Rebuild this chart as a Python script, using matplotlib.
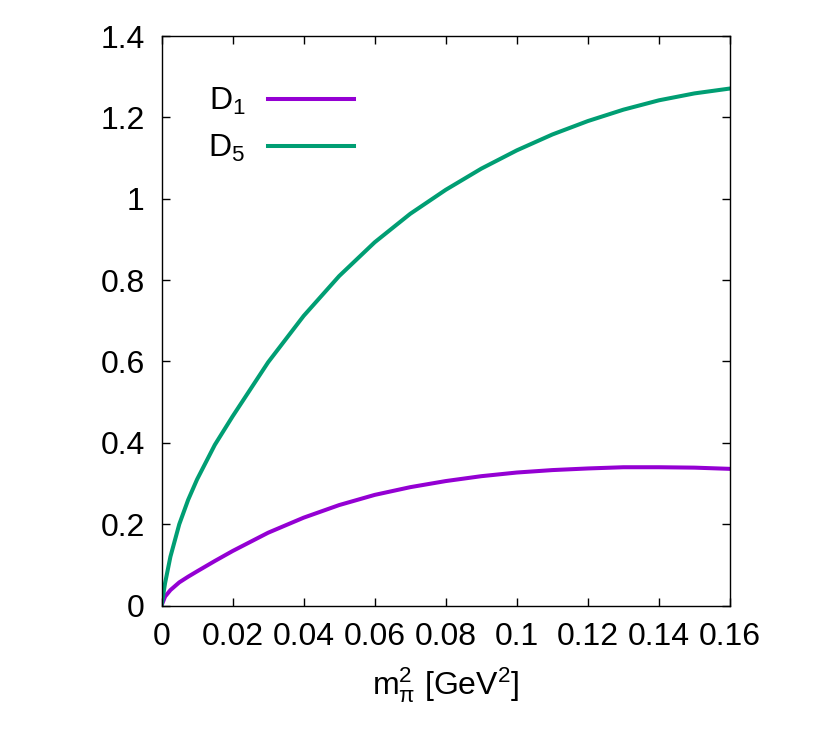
import matplotlib
matplotlib.use("Agg")
import matplotlib.pyplot as plt
from matplotlib.ticker import FixedLocator, FixedFormatter

plt.rcParams['font.family'] = ['Liberation Sans', 'DejaVu Sans']
plt.rcParams['mathtext.fontset'] = 'custom'
plt.rcParams['mathtext.rm'] = 'Liberation Sans'
plt.rcParams['mathtext.it'] = 'Liberation Sans'
plt.rcParams['mathtext.bf'] = 'Liberation Sans'

# m_pi^2 [GeV^2]
mpi2 = [0.0, 0.001, 0.0025, 0.005, 0.0075, 0.01, 0.015, 0.02, 0.03, 0.04, 0.05,
        0.06, 0.07, 0.08, 0.09, 0.10, 0.11, 0.12, 0.13, 0.14, 0.15, 0.16]
D1 = [0.0, 0.022, 0.038, 0.057, 0.071, 0.084, 0.1095, 0.134, 0.179, 0.216, 0.247,
      0.272, 0.291, 0.306, 0.318, 0.327, 0.333, 0.337, 0.340, 0.340, 0.339, 0.336]
D5 = [0.0, 0.055, 0.12, 0.20, 0.26, 0.31, 0.395, 0.465, 0.598, 0.712, 0.810,
      0.893, 0.963, 1.022, 1.074, 1.119, 1.158, 1.191, 1.219, 1.242, 1.259, 1.271]

xticks = [0, 0.02, 0.04, 0.06, 0.08, 0.10, 0.12, 0.14, 0.16]
xticklabels = ['0', '0.02', '0.04', '0.06', '0.08', '0.1', '0.12', '0.14', '0.16']
yticks = [0, 0.2, 0.4, 0.6, 0.8, 1.0, 1.2, 1.4]
yticklabels = ['0', '0.2', '0.4', '0.6', '0.8', '1', '1.2', '1.4']

fig = plt.figure(figsize=(8.22, 7.43), dpi=100)
ax = fig.add_axes([0.1965, 0.185, 0.6916, 0.7665])

ax.plot(mpi2, D1, color='#9400D3', lw=2.9, label=r'$\mathrm{D_1}$',
        solid_joinstyle='round')
ax.plot(mpi2, D5, color='#009E73', lw=2.9, label=r'$\mathrm{D_5}$',
        solid_joinstyle='round')

ax.set_xlim(0, 0.16)
ax.set_ylim(0, 1.4)
ax.xaxis.set_major_locator(FixedLocator(xticks))
ax.xaxis.set_major_formatter(FixedFormatter(xticklabels))
ax.yaxis.set_major_locator(FixedLocator(yticks))
ax.yaxis.set_major_formatter(FixedFormatter(yticklabels))
ax.tick_params(direction='in', length=6, width=1.0, top=True, right=True,
               labelsize=23, pad=12)
for s in ax.spines.values():
    s.set_linewidth(1.0)

ax.set_xlabel(r'$\mathrm{m_{\pi}^{2}}$ [GeV$^{2}$]', fontsize=23, labelpad=9)

ax.legend(loc='upper left', bbox_to_anchor=(0.06, 0.935), frameon=False,
          markerfirst=False, fontsize=23, handlelength=2.7, handletextpad=0.7,
          labelspacing=0.5, borderaxespad=0)

fig.savefig('out.png', dpi=100)
